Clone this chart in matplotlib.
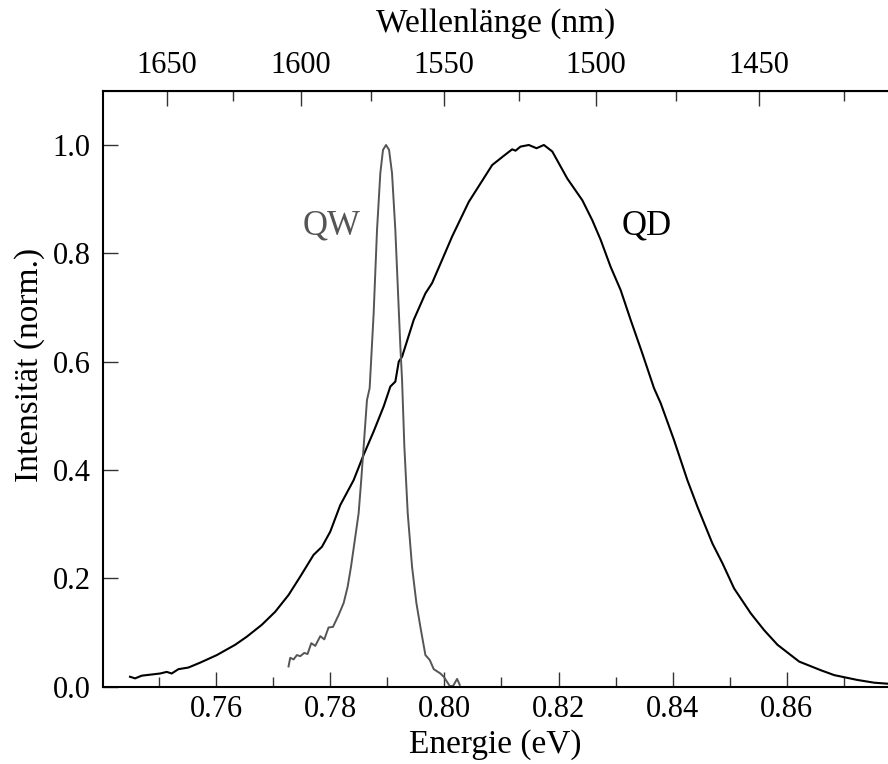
import numpy as np
import matplotlib
matplotlib.use("Agg")
import matplotlib.pyplot as plt
from matplotlib.ticker import FixedLocator, MultipleLocator

plt.rcParams["font.family"] = ["Liberation Serif", "DejaVu Serif"]

# ---- data ------------------------------------------------------------------

# QD spectrum (energy in eV, normalised intensity)
qd_energy = [0.74491, 0.7458, 0.74697, 0.75018, 0.75135, 0.75222, 0.75339,
             0.75514, 0.75719, 0.76012, 0.76333, 0.76538, 0.76801, 0.77035,
             0.77269, 0.77474, 0.77707, 0.77854, 0.78, 0.78175, 0.78409,
             0.78585, 0.7876, 0.78935, 0.79053, 0.7914, 0.7920, 0.79258,
             0.79462, 0.79667, 0.79784, 0.7996, 0.80135, 0.80427, 0.80632,
             0.80837, 0.8104, 0.81187, 0.81246, 0.81333, 0.81479, 0.81614,
             0.81743, 0.8189, 0.82153, 0.82416, 0.82591, 0.82737, 0.82912,
             0.83088, 0.83263, 0.83468, 0.83672, 0.8379, 0.84023, 0.84257,
             0.84433, 0.84696, 0.84872, 0.85076, 0.85368, 0.85602, 0.85836,
             0.86216, 0.86596, 0.8683, 0.8724, 0.87532, 0.87789]
qd_intensity = [0.018, 0.015, 0.020, 0.024, 0.027, 0.024, 0.032,
                0.035, 0.044, 0.058, 0.077, 0.092, 0.114, 0.138,
                0.169, 0.203, 0.243, 0.258, 0.286, 0.335, 0.381,
                0.428, 0.471, 0.517, 0.554, 0.563, 0.600, 0.609,
                0.677, 0.726, 0.745, 0.788, 0.831, 0.895, 0.929,
                0.963, 0.980, 0.992, 0.9895, 0.997, 1.000, 0.994,
                1.000, 0.988, 0.938, 0.898, 0.861, 0.825, 0.775,
                0.732, 0.677, 0.615, 0.551, 0.523, 0.455, 0.381,
                0.332, 0.264, 0.2275, 0.181, 0.135, 0.104, 0.077,
                0.046, 0.030, 0.021, 0.012, 0.007, 0.005]

# QW spectrum
qw_energy = [0.77269, 0.77298, 0.77357, 0.77415, 0.77474, 0.77544, 0.77602,
             0.77667, 0.77737, 0.77825, 0.77895, 0.7797, 0.78047, 0.78146,
             0.78234, 0.78304, 0.78363, 0.78439, 0.78497, 0.78538, 0.78585,
             0.78643, 0.7869, 0.7876, 0.78819, 0.78877, 0.78924, 0.78977,
             0.7903, 0.79082, 0.7914, 0.79198, 0.79228, 0.79258, 0.79298,
             0.79357, 0.79433, 0.79509, 0.79579, 0.79667, 0.79743, 0.79813,
             0.7993, 0.79988, 0.80093, 0.80152, 0.80222, 0.80269]
qw_intensity = [0.037, 0.053, 0.050, 0.058, 0.056, 0.062, 0.060,
                0.080, 0.075, 0.093, 0.087, 0.109, 0.110, 0.132,
                0.154, 0.184, 0.221, 0.277, 0.320, 0.375, 0.443,
                0.529, 0.551, 0.689, 0.843, 0.948, 0.991, 1.000,
                0.991, 0.948, 0.843, 0.701, 0.628, 0.566, 0.443,
                0.320, 0.221, 0.154, 0.110, 0.058, 0.049, 0.032,
                0.024, 0.018, 0.001, 0.001, 0.014, 0.003]

# wavelength ticks on the top axis (nm)
wl_major = [1650, 1600, 1550, 1500, 1450]
wl_minor = [1625, 1575, 1525, 1475, 1425]

HC = 1239.84  # eV*nm

# ---- plot -------------------------------------------------------------------

fig = plt.figure(figsize=(8.88, 7.64), dpi=100)
ax = fig.add_axes([103 / 888, 1 - 686.5 / 764, 785 / 888, 595.5 / 764])

gray = "#555555"
ax.plot(qd_energy, qd_intensity, color="black", lw=1.5)
ax.plot(qw_energy, qw_intensity, color=gray, lw=1.4)

ax.text(0.7802, 0.85, "QW", color=gray, fontsize=25, ha="center", va="center")
ax.text(0.8354, 0.85, "QD", color="black", fontsize=25, ha="center", va="center")

ax.set_xlim(0.74018, 0.87772)
ax.set_ylim(0.0, 1.0997)
ax.xaxis.set_major_locator(MultipleLocator(0.02))
ax.xaxis.set_minor_locator(MultipleLocator(0.01))
ax.yaxis.set_major_locator(MultipleLocator(0.2))
ax.xaxis.set_major_formatter(plt.FormatStrFormatter("%.2f"))
ax.yaxis.set_major_formatter(plt.FormatStrFormatter("%.1f"))

ax.tick_params(axis="both", which="major", direction="in", length=11, width=1.0,
               color="#333333", labelsize=22)
ax.tick_params(axis="x", which="major", pad=6)
ax.tick_params(axis="y", which="major", pad=9)
ax.tick_params(axis="x", which="minor", direction="in", length=7, width=1.0,
               color="#333333")
ax.tick_params(right=False)

for s in ax.spines.values():
    s.set_linewidth(1.5)
ax.spines["right"].set_visible(False)

ax.set_xlabel("Energie (eV)", fontsize=24, labelpad=4)
ax.set_ylabel("Intensität (norm.)", fontsize=24)
ax.yaxis.set_label_coords(-0.074, 0.54)

# top axis in wavelength
top = ax.secondary_xaxis("top", functions=(lambda e: HC / np.asarray(e, float),
                                           lambda l: HC / np.asarray(l, float)))
top.xaxis.set_major_locator(FixedLocator(wl_major))
top.xaxis.set_minor_locator(FixedLocator(wl_minor))
top.tick_params(axis="x", which="major", direction="in", length=11, width=1.0,
                color="#333333", labelsize=22, pad=8)
top.tick_params(axis="x", which="minor", direction="in", length=7, width=1.0,
                color="#333333")
top.set_xlabel("Wellenlänge (nm)", fontsize=24, labelpad=14)

fig.savefig("out.png", dpi=100)
